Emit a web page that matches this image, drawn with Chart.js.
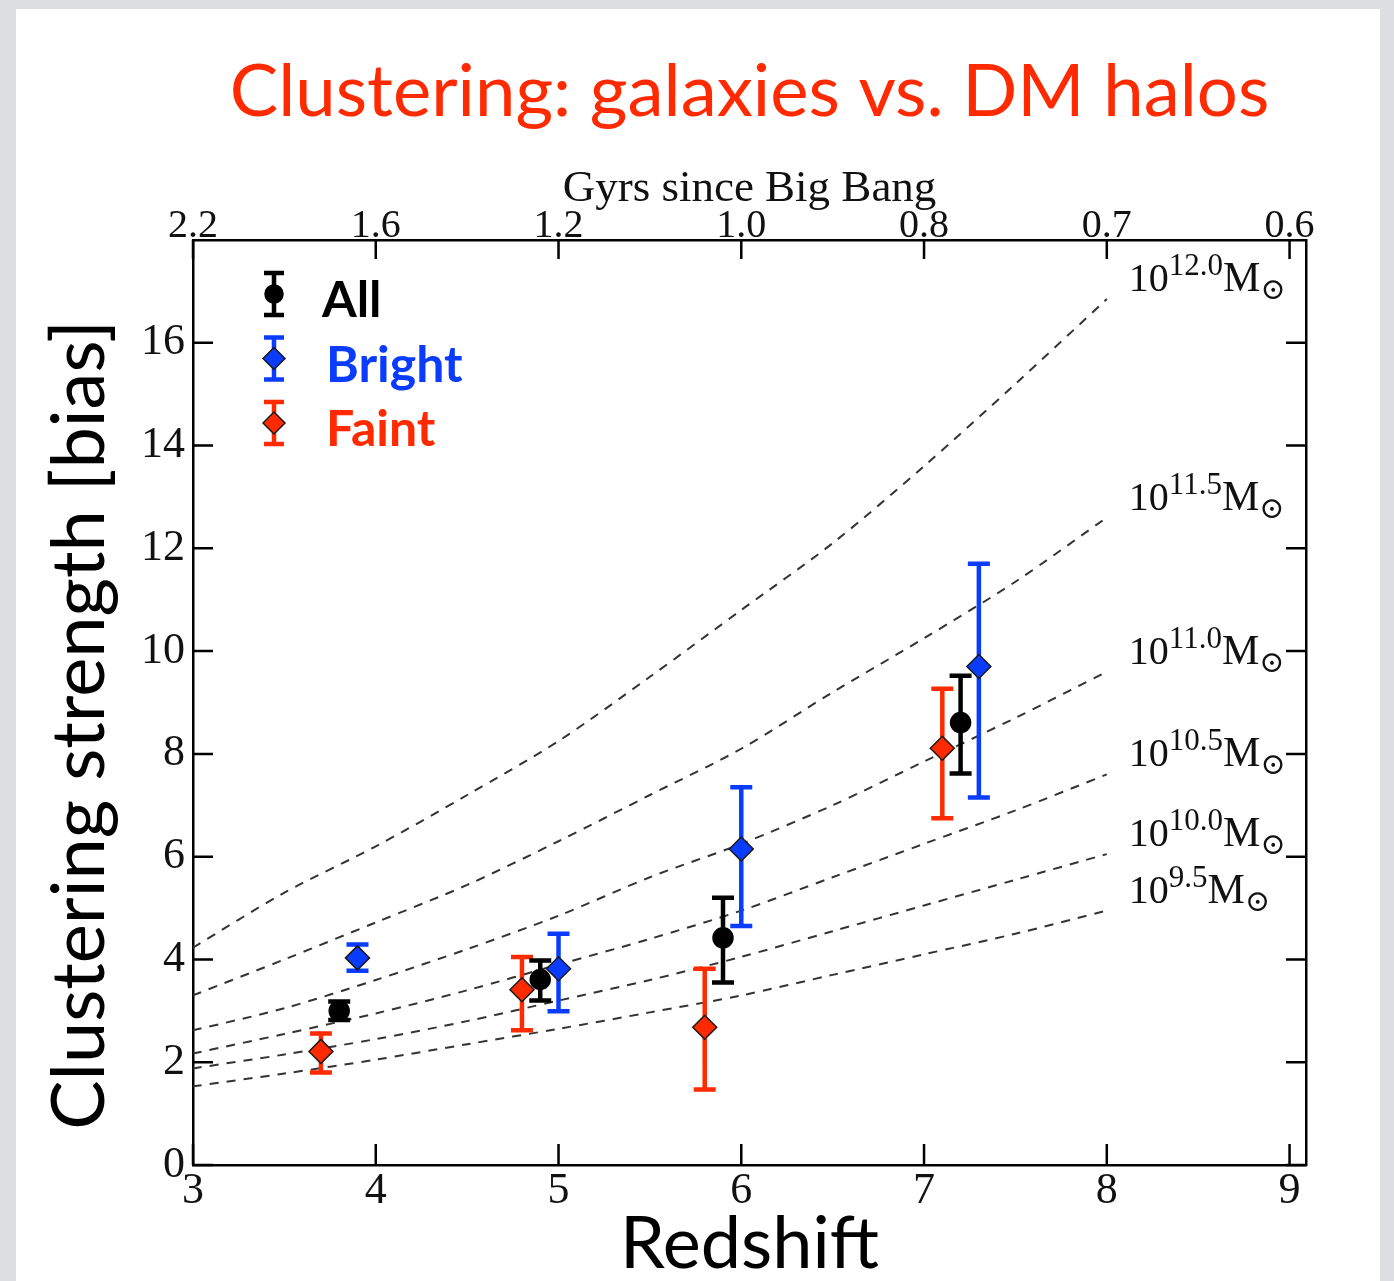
<!DOCTYPE html>
<html>
<head>
<meta charset="utf-8">
<title>Clustering: galaxies vs. DM halos</title>
<script src="https://cdn.jsdelivr.net/npm/chart.js@4.4.1/dist/chart.umd.min.js"></script>
<style>
html, body { margin: 0; padding: 0; width: 1394px; height: 1281px; overflow: hidden; background: #dcdee2; }
#slide { position: absolute; left: 16px; top: 9px; width: 1364px; height: 1272px; background: #fff; }
#chart { display: block; }
</style>
</head>
<body>
<div id="slide"><canvas id="chart" width="1364" height="1272"></canvas></div>
<script>

/* AXES */

const redshiftTicks = [3, 4, 5, 6, 7, 8, 9];
const gyrLabels = ['2.2', '1.6', '1.2', '1.0', '0.8', '0.7', '0.6'];
const biasTicks = [0, 2, 4, 6, 8, 10, 12, 14, 16];
const biasTitle = 'Clustering strength [bias]';

/* MEASURED BIAS (value, error up, error down) */

const allZ = [3.8, 4.9, 5.9, 7.2];
const allBias = [3.0, 3.61, 4.42, 8.61];
const allErrUp = [0.18, 0.37, 0.78, 0.91];
const allErrDown = [0.18, 0.41, 0.87, 0.99];

const brightZ = [3.9, 5.0, 6.0, 7.3];
const brightBias = [4.03, 3.82, 6.15, 9.7];
const brightErrUp = [0.26, 0.68, 1.2, 2.0];
const brightErrDown = [0.25, 0.83, 1.5, 2.55];

const faintZ = [3.7, 4.8, 5.8, 7.1];
const faintBias = [2.21, 3.41, 2.68, 8.11];
const faintErrUp = [0.35, 0.64, 1.14, 1.16];
const faintErrDown = [0.41, 0.79, 1.21, 1.36];

/* DM HALO BIAS TRACKS */

const haloZ = [3, 3.5, 4, 4.5, 5, 5.5, 6, 6.5, 7, 7.5, 8];
const haloLogMass = ['12.0', '11.5', '11.0', '10.5', '10.0', '9.5'];
const halo120 = [4.23, 5.3, 6.2, 7.2, 8.25, 9.5, 10.8, 12.1, 13.6, 15.2, 16.85];
const halo115 = [3.3, 4.0, 4.72, 5.45, 6.3, 7.2, 8.1, 9.2, 10.25, 11.35, 12.6];
const halo110 = [2.62, 3.05, 3.6, 4.2, 4.85, 5.6, 6.25, 7.0, 7.85, 8.7, 9.6];
const halo105 = [2.17, 2.55, 2.95, 3.4, 3.9, 4.4, 4.95, 5.6, 6.25, 6.9, 7.6];
const halo100 = [1.88, 2.15, 2.45, 2.8, 3.2, 3.6, 4.05, 4.55, 5.05, 5.55, 6.05];
const halo095 = [1.53, 1.78, 2.05, 2.35, 2.65, 2.97, 3.3, 3.7, 4.1, 4.5, 4.95];

const BLACK = '#000000';
const BLUE = '#0a3cff';
const RED = '#ff2a00';

const SANS = 'Lato, "Open Sans", sans-serif';
const SERIF = '"Liberation Serif", "DejaVu Serif", serif';

function toPoints(xs, ys){
    return xs.map((x, i) => ({ x: x, y: ys[i] }));
}

const haloSeries = [halo120, halo115, halo110, halo105, halo100, halo095];

const haloDatasets = haloSeries.map((vals, i) => ({
    label: '10^' + haloLogMass[i] + ' Msun',
    logMass: haloLogMass[i],
    data: toPoints(haloZ, vals),
    showLine: true,
    borderColor: '#333333',
    borderWidth: 2,
    borderDash: [9, 8],
    pointRadius: 0,
    tension: 0.3,
    order: 5
}));

function pointSet(label, xs, ys, up, down, color, style, radius){
    return {
        label: label,
        data: toPoints(xs, ys),
        errUp: up,
        errDown: down,
        barColor: color,
        pointStyle: style,
        pointRadius: radius,
        pointBackgroundColor: color,
        pointBorderColor: style === 'circle' ? BLACK : '#1a1a1a',
        pointBorderWidth: 1.5,
        showLine: false,
        order: 1
    };
}

const pointDatasets = [
    pointSet('All', allZ, allBias, allErrUp, allErrDown, BLACK, 'circle', 10),
    pointSet('Bright', brightZ, brightBias, brightErrUp, brightErrDown, BLUE, 'rectRot', 12),
    pointSet('Faint', faintZ, faintBias, faintErrUp, faintErrDown, RED, 'rectRot', 12)
];

/* ERROR BARS (under each marker set) */

const errorBars = {
    id: 'errorBars',
    beforeDatasetDraw(chart, args){
        const ds = chart.data.datasets[args.index];
        if(!ds.errUp) return;
        const ctx = chart.ctx;
        const xs = chart.scales.x;
        const ys = chart.scales.y;
        ctx.save();
        ctx.strokeStyle = ds.barColor;
        ctx.lineWidth = 4.5;
        ctx.beginPath();
        ds.data.forEach((p, i) => {
            const px = xs.getPixelForValue(p.x);
            const top = ys.getPixelForValue(p.y + ds.errUp[i]);
            const bot = ys.getPixelForValue(p.y - ds.errDown[i]);
            ctx.moveTo(px, top); ctx.lineTo(px, bot);
            ctx.moveTo(px - 11, top); ctx.lineTo(px + 11, top);
            ctx.moveTo(px - 11, bot); ctx.lineTo(px + 11, bot);
        });
        ctx.stroke();
        ctx.restore();
    }
};

/* TICK MARKS ON THE INSIDE OF THE FRAME */

const innerTicks = {
    id: 'innerTicks',
    afterDatasetsDraw(chart){
        const {ctx, chartArea: a, scales} = chart;
        ctx.save();
        ctx.strokeStyle = '#000';
        ctx.lineWidth = 2.5;
        ctx.beginPath();
        scales.x.ticks.forEach(t => {
            const px = scales.x.getPixelForValue(t.value);
            ctx.moveTo(px, a.bottom); ctx.lineTo(px, a.bottom - 21);
        });
        scales.x2.ticks.forEach(t => {
            const px = scales.x2.getPixelForValue(t.value);
            ctx.moveTo(px, a.top); ctx.lineTo(px, a.top + 19);
        });
        scales.y.ticks.forEach(t => {
            const py = scales.y.getPixelForValue(t.value);
            ctx.moveTo(a.left, py); ctx.lineTo(a.left + 20, py);
        });
        scales.y2.ticks.forEach(t => {
            const py = scales.y2.getPixelForValue(t.value);
            ctx.moveTo(a.right, py); ctx.lineTo(a.right - 20, py);
        });
        ctx.stroke();
        ctx.restore();
    }
};

/* HALO MASS LABELS AT THE END OF EACH TRACK */

const massLabels = {
    id: 'massLabels',
    afterDatasetsDraw(chart){
        const ctx = chart.ctx;
        const xs = chart.scales.x;
        const ys = chart.scales.y;
        ctx.save();
        ctx.fillStyle = '#111';
        ctx.textBaseline = 'alphabetic';
        ctx.textAlign = 'left';
        chart.data.datasets.forEach(ds => {
            if(!ds.logMass) return;
            const last = ds.data[ds.data.length - 1];
            let x = xs.getPixelForValue(last.x) + 22;
            const base = ys.getPixelForValue(last.y) - 8;
            ctx.font = '40px ' + SERIF;
            ctx.fillText('10', x, base);
            x += ctx.measureText('10').width;
            ctx.font = '31px ' + SERIF;
            ctx.fillText(ds.logMass, x, base - 16);
            x += ctx.measureText(ds.logMass).width;
            ctx.font = '42px ' + SERIF;
            ctx.fillText('M', x, base);
            x += ctx.measureText('M').width;
            ctx.font = '30px ' + SERIF;
            ctx.fillText('\u2299', x, base + 8);
        });
        ctx.restore();
    }
};

/* LEGEND IN THE TOP LEFT CORNER */

const cornerLegend = {
    id: 'cornerLegend',
    afterDraw(chart){
        const {ctx, chartArea: a} = chart;
        const sets = chart.data.datasets.filter(ds => ds.errUp);
        ctx.save();
        sets.forEach((ds, i) => {
            const gx = a.left + 81;
            const gy = a.top + 54 + i * 64.5;
            ctx.strokeStyle = ds.barColor;
            ctx.lineWidth = 4.5;
            ctx.beginPath();
            ctx.moveTo(gx, gy - 21); ctx.lineTo(gx, gy + 21);
            ctx.moveTo(gx - 10, gy - 21); ctx.lineTo(gx + 10, gy - 21);
            ctx.moveTo(gx - 10, gy + 21); ctx.lineTo(gx + 10, gy + 21);
            ctx.stroke();
            ctx.fillStyle = ds.pointBackgroundColor;
            ctx.strokeStyle = ds.pointBorderColor;
            ctx.lineWidth = 1.5;
            Chart.helpers.drawPoint(ctx, {
                pointStyle: ds.pointStyle,
                radius: ds.pointStyle === 'circle' ? 9 : 11,
                rotation: 0,
                borderWidth: 1.5
            }, gx, gy);
            ctx.fillStyle = ds.barColor;
            ctx.font = 'bold 50px ' + SANS;
            ctx.textBaseline = 'alphabetic';
            ctx.fillText(ds.label, a.left + (i === 0 ? 129 : 133), gy + 23);
        });
        ctx.restore();
    }
};

/* Y AXIS TITLE, a little below the middle of the axis */

const sideTitle = {
    id: 'sideTitle',
    afterDraw(chart){
        const {ctx, chartArea: a} = chart;
        ctx.save();
        ctx.translate(64, a.top + 485);
        ctx.rotate(-Math.PI / 2);
        ctx.font = '74px ' + SANS;
        ctx.fillStyle = '#000';
        ctx.textAlign = 'center';
        ctx.textBaseline = 'middle';
        ctx.fillText(biasTitle, 0, 0);
        ctx.restore();
    }
};

/* CHART */

new Chart(document.getElementById('chart'), {
    type: 'scatter',
    data: {
        datasets: [...haloDatasets, ...pointDatasets]
    },
    plugins: [errorBars, innerTicks, massLabels, cornerLegend, sideTitle],
    options: {
        responsive: false,
        animation: false,
        layout: { padding: 0 },
        plugins: {
            legend: { display: false },
            tooltip: { enabled: false },
            title: {
                display: true,
                fullSize: false,
                text: 'Clustering: galaxies vs. DM halos',
                color: RED,
                font: { family: SANS, size: 72.5, weight: 'normal', lineHeight: 1.2 },
                padding: { top: 40, bottom: 0 }
            }
        },
        scales: {
            x: {
                type: 'linear',
                position: 'bottom',
                min: 3,
                max: 9.09,
                afterBuildTicks: s => { s.ticks = redshiftTicks.map(v => ({ value: v })); },
                afterFit: s => { s.height = 116; },
                grid: { display: false, drawTicks: false },
                border: { display: true, color: '#000', width: 2.5 },
                ticks: {
                    autoSkip: false,
                    maxRotation: 0,
                    color: '#111',
                    padding: 4,
                    font: { family: SERIF, size: 44, lineHeight: 1 }
                },
                title: {
                    display: true,
                    text: 'Redshift',
                    color: '#000',
                    font: { family: SANS, size: 72, lineHeight: 1 },
                    padding: { top: 0, bottom: 0 }
                }
            },
            x2: {
                type: 'linear',
                position: 'top',
                min: 3,
                max: 9.09,
                afterBuildTicks: s => { s.ticks = redshiftTicks.map(v => ({ value: v })); },
                afterFit: s => { s.height = 104; },
                grid: { display: false, drawTicks: false },
                border: { display: true, color: '#000', width: 2.5 },
                ticks: {
                    autoSkip: false,
                    maxRotation: 0,
                    color: '#111',
                    padding: 0,
                    font: { family: SERIF, size: 40, lineHeight: 0.7 },
                    callback: (v, i) => gyrLabels[i]
                },
                title: {
                    display: true,
                    text: 'Gyrs since Big Bang',
                    color: '#111',
                    font: { family: SERIF, size: 45, lineHeight: 1.2 },
                    padding: { top: 26, bottom: 0 }
                }
            },
            y: {
                type: 'linear',
                position: 'left',
                min: 0,
                max: 18,
                afterBuildTicks: s => { s.ticks = biasTicks.map(v => ({ value: v })); },
                afterFit: s => { s.width = 177; },
                grid: { display: false, drawTicks: false },
                border: { display: true, color: '#000', width: 2.5 },
                ticks: {
                    autoSkip: false,
                    color: '#111',
                    padding: 8,
                    font: { family: SERIF, size: 44, lineHeight: 1 }
                }
            },
            y2: {
                type: 'linear',
                position: 'right',
                min: 0,
                max: 18,
                afterBuildTicks: s => { s.ticks = biasTicks.map(v => ({ value: v })); },
                afterFit: s => { s.width = 74; },
                grid: { display: false, drawTicks: false },
                border: { display: true, color: '#000', width: 2.5 },
                ticks: { display: false }
            }
        }
    }
});

</script>
</body>
</html>
